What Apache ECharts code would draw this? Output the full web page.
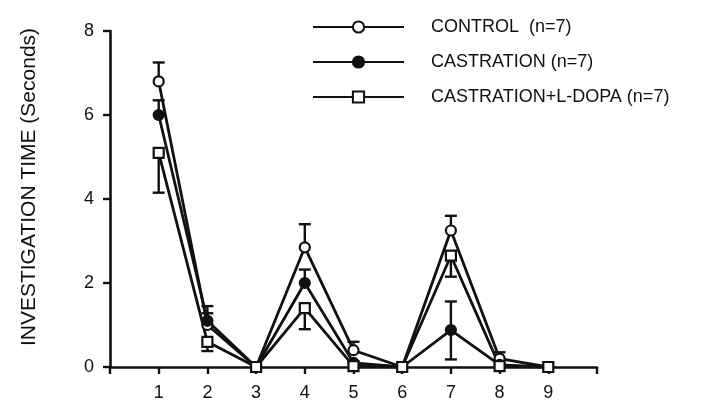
<!DOCTYPE html>
<html>
<head>
<meta charset="utf-8">
<script src="https://cdn.jsdelivr.net/npm/echarts@6/dist/echarts.min.js"></script>
<style>
  html, body { margin: 0; padding: 0; background: #fff; }
  #chart { width: 704px; height: 402px; }
</style>
</head>
<body>
<div id="chart"></div>
<script>
const trials = [1, 2, 3, 4, 5, 6, 7, 8, 9]
const yTicks = [0, 2, 4, 6, 8]

const controlMean = [6.8, 1.0, 0, 2.85, 0.4, 0, 3.25, 0.2, 0]
const controlUp = [0.45, 0.28, 0, 0.55, 0.2, 0, 0.35, 0.15, 0]
const controlDown = [0, 0, 0, 0, 0, 0, 0, 0, 0]

const castrationMean = [6.0, 1.1, 0, 2.0, 0.1, 0, 0.88, 0.05, 0]
const castrationUp = [0.35, 0.35, 0, 0.32, 0, 0, 0.68, 0, 0]
const castrationDown = [0, 0, 0, 0, 0, 0, 0.7, 0, 0]

const ldopaMean = [5.1, 0.6, 0, 1.4, 0.02, 0, 2.65, 0.02, 0]
const ldopaUp = [0, 0, 0, 0, 0, 0, 0, 0, 0]
const ldopaDown = [0.95, 0.22, 0, 0.5, 0, 0, 0.5, 0, 0]

const INK = '#111'
const FONT = '"Liberation Sans", Arial, Helvetica, sans-serif'

function lineSeries(name, mean, symbol, fill) {
  return {
    name,
    type: 'line',
    data: trials.map((t, i) => [t, mean[i]]),
    symbol,
    symbolSize: 10,
    showAllSymbol: true,
    z: 3,
    lineStyle: { color: INK, width: 2.8 },
    itemStyle: { color: fill, borderColor: INK, borderWidth: 2.2 }
  }
}

// vertical error whiskers, one-sided unless both up and down are given
function errorSeries(mean, up, down) {
  return {
    type: 'custom',
    silent: true,
    z: 2,
    data: trials.map((t, i) => [t, mean[i], up[i], down[i]]),
    renderItem(params, api) {
      const x = api.value(0)
      const m = api.value(1)
      const hi = api.coord([x, m + api.value(2)])
      const lo = api.coord([x, m - api.value(3)])
      const cw = 6
      const style = { stroke: INK, lineWidth: 2.4 }
      const children = [{
        type: 'line',
        shape: { x1: hi[0], y1: hi[1], x2: lo[0], y2: lo[1] },
        style
      }]
      if (api.value(2) > 0) {
        children.push({
          type: 'line',
          shape: { x1: hi[0] - cw, y1: hi[1], x2: hi[0] + cw, y2: hi[1] },
          style
        })
      }
      if (api.value(3) > 0) {
        children.push({
          type: 'line',
          shape: { x1: lo[0] - cw, y1: lo[1], x2: lo[0] + cw, y2: lo[1] },
          style
        })
      }
      return { type: 'group', children }
    }
  }
}

const chart = echarts.init(document.getElementById('chart'))
chart.setOption({
  animation: false,
  backgroundColor: '#fff',
  textStyle: { fontFamily: FONT },
  grid: { left: 110, right: 107, top: 31, bottom: 32, containLabel: false },
  legend: {
    orient: 'vertical',
    left: 307,
    top: 13,
    itemWidth: 91,
    itemHeight: 14,
    itemGap: 17,
    selectedMode: false,
    textStyle: { color: INK, fontSize: 18, fontFamily: FONT, padding: [0, 0, 0, 22] },
    data: ['CONTROL  (n=7)', 'CASTRATION (n=7)', 'CASTRATION+L-DOPA (n=7)']
  },
  xAxis: {
    type: 'value',
    min: 0,
    max: 10,
    interval: 1,
    axisLine: { show: true, lineStyle: { color: INK, width: 2.6 } },
    axisTick: { show: true, inside: false, length: 7, lineStyle: { color: INK, width: 2.4 } },
    axisLabel: {
      color: INK,
      fontSize: 18,
      margin: 17,
      formatter: (v) => (trials.includes(v) ? String(v) : '')
    },
    splitLine: { show: false }
  },
  yAxis: {
    type: 'value',
    min: 0,
    max: 8,
    interval: 2,
    name: 'INVESTIGATION TIME (Seconds)',
    nameLocation: 'middle',
    nameRotate: 90,
    nameGap: 70,
    nameTextStyle: { color: INK, fontSize: 21, fontFamily: FONT, padding: [0, 0, 0, 24] },
    axisLine: { show: true, lineStyle: { color: INK, width: 2.6 } },
    axisTick: { show: true, length: 7, lineStyle: { color: INK, width: 2.4 } },
    axisLabel: {
      color: INK,
      fontSize: 18,
      margin: 16,
      formatter: (v) => (yTicks.includes(v) ? String(v) : '')
    },
    splitLine: { show: false }
  },
  series: [
    errorSeries(controlMean, controlUp, controlDown),
    errorSeries(castrationMean, castrationUp, castrationDown),
    errorSeries(ldopaMean, ldopaUp, ldopaDown),
    lineSeries('CONTROL  (n=7)', controlMean, 'circle', '#fff'),
    lineSeries('CASTRATION (n=7)', castrationMean, 'circle', INK),
    lineSeries('CASTRATION+L-DOPA (n=7)', ldopaMean, 'rect', '#fff')
  ]
})
</script>
</body>
</html>
